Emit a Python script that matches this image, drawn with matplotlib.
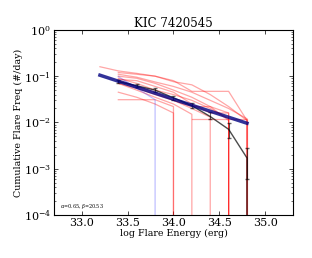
import matplotlib
matplotlib.use('Agg')
import matplotlib.pyplot as plt

plt.rcParams['font.family'] = 'DejaVu Serif'
plt.rcParams['mathtext.fontset'] = 'dejavuserif'

# mean cumulative FFD (black) with error bars
ffd_x = [33.4, 33.6, 33.8, 34.0, 34.2, 34.4, 34.6, 34.8]
ffd_y = [0.076, 0.062, 0.050, 0.034, 0.023, 0.0134, 0.0071, 0.0017]
ffd_lo = [0.006, 0.005, 0.005, 0.004, 0.003, 0.0017, 0.0025, 0.0011]
ffd_hi = [0.006, 0.005, 0.005, 0.004, 0.003, 0.0030, 0.0025, 0.0011]

# power-law fit (thick blue)
fit_x = [33.2, 34.8]
fit_y = [0.105, 0.0096]

# single-quarter FFD in light blue
blue_x = [33.4, 33.8]
blue_y = [0.098, 0.031]

# individual quarter FFDs (red), each drops to zero at its last energy
red_x = [
    [33.2, 33.4, 33.6, 33.8, 34.0, 34.2, 34.4, 34.6, 34.8],
    [33.4, 33.6, 33.8, 34.0, 34.2, 34.4, 34.6, 34.8],
    [33.4, 33.6, 33.8, 34.0, 34.2, 34.4, 34.6, 34.8],
    [33.4, 33.6, 33.8, 34.0, 34.2, 34.4, 34.6],
    [33.4, 33.6, 33.8, 34.0, 34.2, 34.4, 34.6],
    [33.4, 33.6, 33.8, 34.0, 34.2, 34.4, 34.6],
    [33.4, 33.6, 33.8, 34.0, 34.2, 34.4, 34.6],
    [33.4, 33.6, 33.8, 34.0, 34.2, 34.4],
    [33.4, 33.6, 33.8, 34.0, 34.2],
    [33.4, 33.6, 33.8, 34.0],
    [33.4, 33.8, 34.0],
    [34.2, 34.4, 34.6, 34.8],
]
red_y = [
    [0.16, 0.13, 0.115, 0.10, 0.076, 0.065, 0.040, 0.022, 0.011],
    [0.12, 0.11, 0.10, 0.080, 0.047, 0.047, 0.047, 0.011],
    [0.11, 0.095, 0.075, 0.060, 0.045, 0.030, 0.020, 0.012],
    [0.10, 0.090, 0.070, 0.050, 0.035, 0.022, 0.016],
    [0.09, 0.070, 0.050, 0.040, 0.030, 0.020, 0.012],
    [0.085, 0.080, 0.060, 0.045, 0.025, 0.016, 0.016],
    [0.07, 0.055, 0.040, 0.030, 0.022, 0.022, 0.011],
    [0.08, 0.060, 0.045, 0.030, 0.020, 0.013],
    [0.07, 0.050, 0.035, 0.025, 0.015],
    [0.045, 0.035, 0.025, 0.016],
    [0.031, 0.031, 0.022],
    [0.012, 0.012, 0.012, 0.012],
]

floor = 1e-5

fig = plt.figure(figsize=(3.12, 2.58), dpi=100)
ax = fig.add_axes([0.173, 0.167, 0.766, 0.717])

for xs, ys in zip(red_x, red_y):
    ax.plot(xs + [xs[-1]], ys + [floor], color='red', alpha=0.35, lw=0.9)

ax.plot(blue_x + [blue_x[-1]], blue_y + [floor], color='blue', alpha=0.25, lw=0.9)

ax.plot(ffd_x + [ffd_x[-1]], ffd_y + [floor], color='k', alpha=0.7, lw=1)
ax.errorbar(ffd_x, ffd_y, yerr=[ffd_lo, ffd_hi], fmt='none', ecolor='k', alpha=0.6,
            elinewidth=0.8, capsize=1.5)

ax.plot(fit_x, fit_y, color='navy', alpha=0.8, lw=2.5)

ax.set_yscale('log')
ax.set_xlim(32.7, 35.3)
ax.set_ylim(1e-4, 1)
ax.set_xticks([33.0, 33.5, 34.0, 34.5, 35.0])
ax.tick_params(direction='in', which='both', top=True, right=True, labelsize=8, pad=2)
ax.tick_params(which='major', length=3, width=0.5)
ax.tick_params(which='minor', length=1.5, width=0.4)
for s in ax.spines.values():
    s.set_linewidth(0.8)

ax.set_title('KIC 7420545', fontsize=8.5, pad=2)
ax.set_xlabel('log Flare Energy (erg)', fontsize=6.8, labelpad=1)
ax.set_ylabel('Cumulative Flare Freq (#/day)', fontsize=6.8, labelpad=1)
ax.text(0.025, 0.035, r'$\alpha$=0.65, $\beta$=20.53', transform=ax.transAxes, fontsize=3.5)

plt.savefig('out.png', dpi=100)
plt.close()
